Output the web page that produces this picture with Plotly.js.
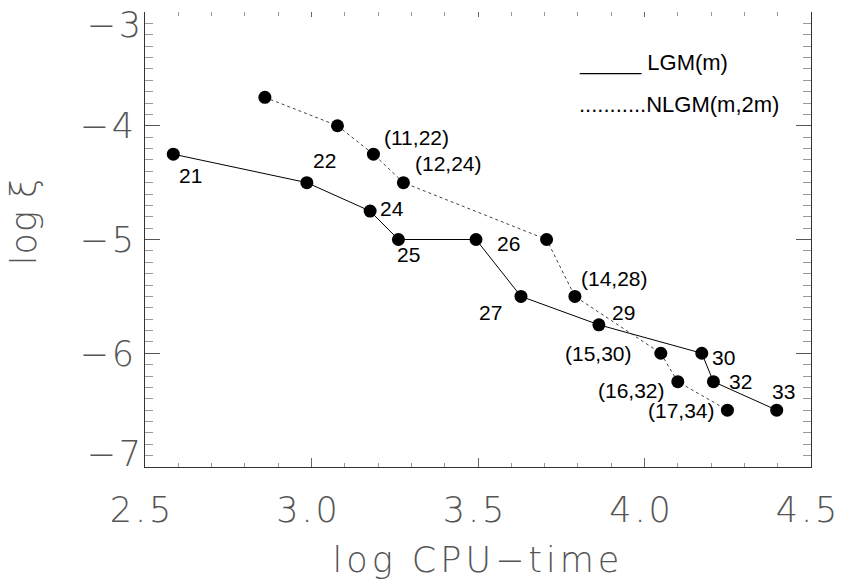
<!DOCTYPE html>
<html>
<head>
<meta charset="utf-8">
<script src="https://cdn.plot.ly/plotly-3.0.1.min.js"></script>
<style>
  html, body { margin: 0; padding: 0; background: #fff; }
  #chart { width: 841px; height: 581px; }
  .xtick text, .ytick text, .y2tick text, .y3tick text { letter-spacing: 3px; }
  .g-xtitle text { letter-spacing: 4px; }
  .g-y4title text { letter-spacing: 1px; }
</style>
</head>
<body>
<div id="chart"></div>
<script>
// LGM(m): log CPU-time vs log xi, labelled by m
const lgmX = [2.585, 2.986, 3.176, 3.261, 3.494, 3.629, 3.863, 4.172, 4.207, 4.397];
const lgmY = [-4.25, -4.5, -4.75, -5.0, -5.0, -5.5, -5.75, -6.0, -6.25, -6.5];
const lgmLabels = ['21', '22', '24', '25', '26', '27', '29', '30', '32', '33'];

// NLGM(m,2m)
const nlgmX = [2.860, 3.078, 3.186, 3.276, 3.706, 3.791, 4.049, 4.100, 4.249];
const nlgmY = [-3.75, -4.0, -4.25, -4.5, -5.0, -5.5, -6.0, -6.25, -6.5];
const nlgmLabels = ['', '', '(11,22)', '(12,24)', '', '(14,28)', '(15,30)', '(16,32)', '(17,34)'];

// axis ticks
const xTickVals = [2.5, 3.0, 3.5, 4.0, 4.5];
const xTickText = ['2.5', '3.0', '3.5', '4.0', '4.5'];
const yTickVals = [-7, -6, -5, -4, -3];
const yTickText = ['', '\u22126', '\u22125', '\u22124', ''];
const yTopTick = [-3];
const yTopText = ['\u22123'];
const yBottomTick = [-7];
const yBottomText = ['\u22127'];

// legend lines
const legendTexts = ['_____ LGM(m)', '...........NLGM(m,2m)'];

// pixel offsets of each point label relative to its marker
const lgmOffsets = [[17, -21], [18, 22], [22, 3], [10, -15], [32, -4], [-30, -16], [25, 12], [22, -4], [27, 0], [7, 19]];
const nlgmOffsets = [[0, 0], [0, 0], [43, 17], [45, 19], [0, 0], [40, 18], [-62, 0], [-46, -9], [-46, 0]];

const tickFont = { family: 'DejaVu Sans, sans-serif', size: 35, color: '#555', weight: 200 };
const labelFont = { family: 'Liberation Sans, Arial, sans-serif', size: 21, color: '#000' };
const legendFont = { family: 'Liberation Sans, Arial, sans-serif', size: 22, color: '#000' };

const traces = [
  {
    x: lgmX, y: lgmY, type: 'scatter', mode: 'lines+markers',
    line: { color: '#000', width: 1 },
    marker: { color: '#000', size: 13 },
    hoverinfo: 'skip'
  },
  {
    x: nlgmX, y: nlgmY, type: 'scatter', mode: 'lines+markers',
    line: { color: '#444', width: 1, dash: 'dot' },
    marker: { color: '#000', size: 13 },
    hoverinfo: 'skip'
  },
  // empty traces so the helper axes (top ticks, end labels, y title) get drawn
  { x: [], y: [], type: 'scatter', xaxis: 'x2', yaxis: 'y', hoverinfo: 'skip' },
  { x: [], y: [], type: 'scatter', xaxis: 'x', yaxis: 'y2', hoverinfo: 'skip' },
  { x: [], y: [], type: 'scatter', xaxis: 'x', yaxis: 'y3', hoverinfo: 'skip' },
  { x: [], y: [], type: 'scatter', xaxis: 'x', yaxis: 'y4', hoverinfo: 'skip' }
];

const annotations = [];
lgmLabels.forEach((t, i) => {
  if (!t) return;
  annotations.push({
    x: lgmX[i], y: lgmY[i], xref: 'x', yref: 'y', text: t, showarrow: false,
    xshift: lgmOffsets[i][0], yshift: lgmOffsets[i][1], font: labelFont
  });
});
nlgmLabels.forEach((t, i) => {
  if (!t) return;
  annotations.push({
    x: nlgmX[i], y: nlgmY[i], xref: 'x', yref: 'y', text: t, showarrow: false,
    xshift: nlgmOffsets[i][0], yshift: nlgmOffsets[i][1], font: labelFont
  });
});
legendTexts.forEach((t, i) => {
  annotations.push({
    x: 0.649, y: [0.89, 0.797][i], xref: 'paper', yref: 'paper', xanchor: 'left', yanchor: 'middle',
    text: t, showarrow: false, font: legendFont
  });
});

const minorX = { dtick: 0.1, tick0: 2.5, ticks: 'inside', ticklen: 4, tickcolor: '#999', showgrid: false };
const minorY = { dtick: 0.1, tick0: -7, ticks: 'inside', ticklen: 8, tickcolor: '#999', showgrid: false };

// extra left axes that only carry the end labels, nudged inside the frame
const endLabelAxis = (vals, text, shift) => ({
  range: [-7, -3], overlaying: 'y', side: 'left', anchor: 'x',
  tickvals: vals, ticktext: text, ticks: '', showline: false, showgrid: false, zeroline: false,
  tickfont: tickFont, ticklabelshift: shift, ticklabeloverflow: 'allow'
});

const layout = {
  width: 841, height: 581,
  margin: { l: 145, r: 30, t: 12, b: 114 },
  paper_bgcolor: '#fff', plot_bgcolor: 'rgba(0,0,0,0)',
  showlegend: false,
  xaxis: {
    range: [2.5, 4.5], tickvals: xTickVals, ticktext: xTickText,
    ticks: 'inside', ticklen: 9, tickcolor: '#666', tickwidth: 1,
    showline: true, linecolor: '#333', linewidth: 1, mirror: false,
    showgrid: false, zeroline: false,
    tickfont: tickFont, ticklabelstandoff: 12, ticklabelshift: -3, ticklabeloverflow: 'allow',
    minor: minorX,
    title: { text: 'log CPU\u2212time', font: tickFont, standoff: 18 }
  },
  xaxis2: {
    range: [2.5, 4.5], overlaying: 'x', side: 'top', anchor: 'y',
    tickvals: xTickVals, showticklabels: false,
    ticks: 'inside', ticklen: 5, tickcolor: '#666',
    showline: false, showgrid: false, zeroline: false,
    minor: minorX
  },
  yaxis: {
    range: [-7, -3], tickvals: yTickVals, ticktext: yTickText,
    ticks: 'inside', ticklen: 15, tickcolor: '#555', tickwidth: 1,
    showline: true, linecolor: '#333', linewidth: 1, mirror: 'ticks',
    showgrid: false, zeroline: false,
    tickfont: tickFont, ticklabeloverflow: 'allow',
    minor: minorY
  },
  yaxis2: endLabelAxis(yTopTick, yTopText, 13),
  yaxis3: endLabelAxis(yBottomTick, yBottomText, -13),
  // title-only axis, sitting a little above the plot's middle
  yaxis4: {
    domain: [0.08, 1], anchor: 'free', position: 0, side: 'left', range: [0, 1],
    showline: false, ticks: '', showticklabels: false, showgrid: false, zeroline: false,
    title: { text: 'log \u03be', font: tickFont, standoff: 96 }
  },
  annotations: annotations
};

Plotly.newPlot('chart', traces, layout, { displayModeBar: false, staticPlot: true });
</script>
</body>
</html>
